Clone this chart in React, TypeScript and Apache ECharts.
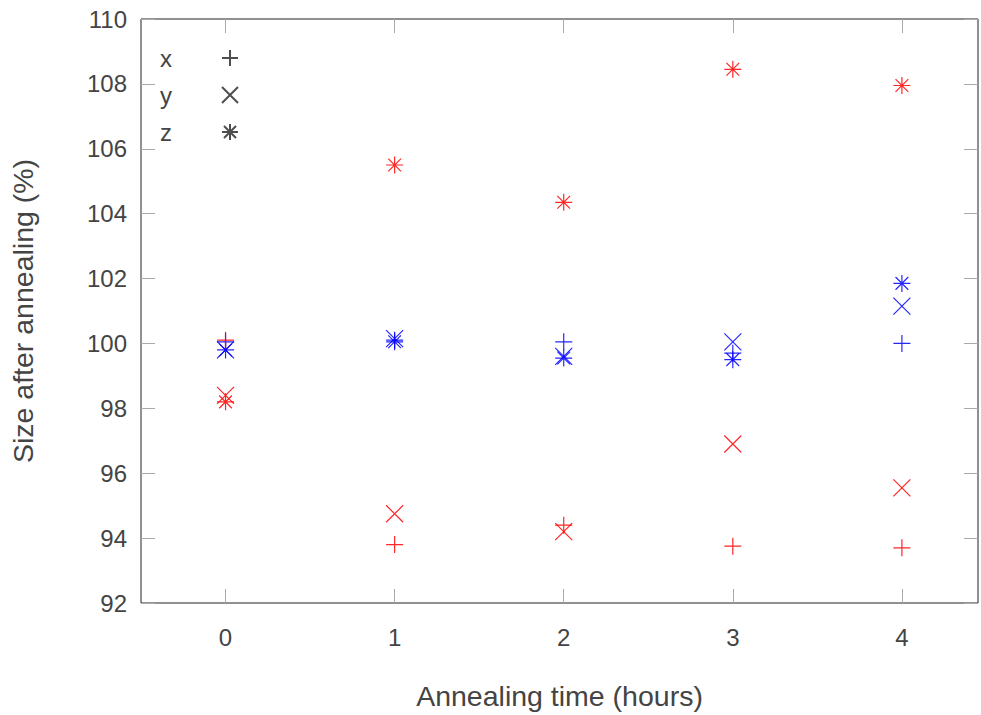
import React, { useEffect, useRef } from "react";
import * as echarts from "echarts";

const xValues = [0, 1, 2, 3, 4];
const xTicks = [0, 1, 2, 3, 4];
const redX = [100.1, 93.8, 94.4, 93.75, 93.7];
const redY = [98.4, 94.75, 94.2, 96.9, 95.55];
const redZ = [98.2, 105.5, 104.35, 108.45, 107.95];
const blueX = [100.05, 100.1, 100.05, 99.7, 100.0];
const blueY = [99.8, 100.15, 99.6, 100.05, 101.15];
const blueZ = [99.8, 100.05, 99.55, 99.5, 101.85];
const legendNames = ["x", "y", "z"];

const PLUS = "path://M0,8L16,8M8,0L8,16";
const CROSS = "path://M0,0L16,16M16,0L0,16";
const STAR = "path://M0,8L16,8M8,0L8,16M2,2L14,14M14,2L2,14";
const symbols = [PLUS, CROSS, STAR];

const FONT = "Liberation Sans";

export default function App() {
  const ref = useRef<HTMLDivElement>(null);
  useEffect(() => {
    if (!ref.current) return;
    const chart = echarts.init(ref.current, null, { renderer: "svg" });
    const mk = (name: string, vals: number[], sym: string, color: string) => ({
      name,
      type: "scatter",
      symbol: sym,
      symbolSize: 17,
      data: xValues.map((x, i) => [x, vals[i]]),
      itemStyle: { color: "none", borderColor: color, borderWidth: 1.2, opacity: 0.85 },
      emphasis: { disabled: true },
    });
    const legendSeries = legendNames.map((n, i) => ({
      name: n,
      type: "scatter",
      symbol: symbols[i],
      symbolSize: 16,
      data: [],
      itemStyle: { color: "none", borderColor: "#222", borderWidth: 1.2 },
    }));
    const tickStyle = { show: true, inside: true, length: 14, lineStyle: { color: "#aaa", width: 1 } };
    chart.setOption({
      animation: false,
      backgroundColor: "#fff",
      grid: { left: 138, top: 19, right: 3, bottom: 112, show: true, borderColor: "#222", borderWidth: 1 },
      legend: {
        data: legendNames,
        orient: "vertical",
        left: 155,
        top: 41,
        align: "right",
        itemWidth: 16,
        itemHeight: 16,
        itemGap: 13,
        formatter: (n: string) => `{a|${n}}`,
        textStyle: {
          fontFamily: FONT,
          fontSize: 24,
          color: "#444",
          rich: { a: { width: 57, align: "left", fontFamily: FONT, fontSize: 24, color: "#444", lineHeight: 26 } },
        },
        selectedMode: false,
      },
      xAxis: [
        {
          type: "value",
          min: -0.5,
          max: 4.45,
          axisLine: { show: false, onZero: false },
          splitLine: { show: false },
          axisTick: { ...tickStyle, customValues: xTicks },
          axisLabel: { customValues: xTicks, fontFamily: FONT, fontSize: 24, color: "#444", margin: 22 },
          name: "Annealing time (hours)",
          nameLocation: "middle",
          nameGap: 78,
          nameTextStyle: { fontFamily: FONT, fontSize: 28.5, color: "#444" },
        },
        {
          type: "value",
          position: "top",
          min: -0.5,
          max: 4.45,
          axisLine: { show: false, onZero: false },
          splitLine: { show: false },
          axisTick: { ...tickStyle, customValues: xTicks },
          axisLabel: { show: false },
        },
      ],
      yAxis: [
        {
          type: "value",
          min: 92,
          max: 110,
          interval: 2,
          axisLine: { show: false, onZero: false },
          splitLine: { show: false },
          axisTick: tickStyle,
          axisLabel: { fontFamily: FONT, fontSize: 24, color: "#444", margin: 14 },
          name: "Size after annealing (%)",
          nameLocation: "middle",
          nameGap: 104,
          nameTextStyle: { fontFamily: FONT, fontSize: 28.5, color: "#444" },
        },
        {
          type: "value",
          position: "right",
          min: 92,
          max: 110,
          interval: 2,
          axisLine: { show: false, onZero: false },
          splitLine: { show: false },
          axisTick: tickStyle,
          axisLabel: { show: false },
        },
      ],
      series: [
        mk("bx", blueX, PLUS, "#0000ff"),
        mk("by", blueY, CROSS, "#0000ff"),
        mk("bz", blueZ, STAR, "#0000ff"),
        mk("rx", redX, PLUS, "#ff0000"),
        mk("ry", redY, CROSS, "#ff0000"),
        mk("rz", redZ, STAR, "#ff0000"),
        ...legendSeries,
      ],
    });
    return () => chart.dispose();
  }, []);
  return <div ref={ref} style={{ width: 981, height: 715, position: "absolute", left: 0, top: 0 }} />;
}
